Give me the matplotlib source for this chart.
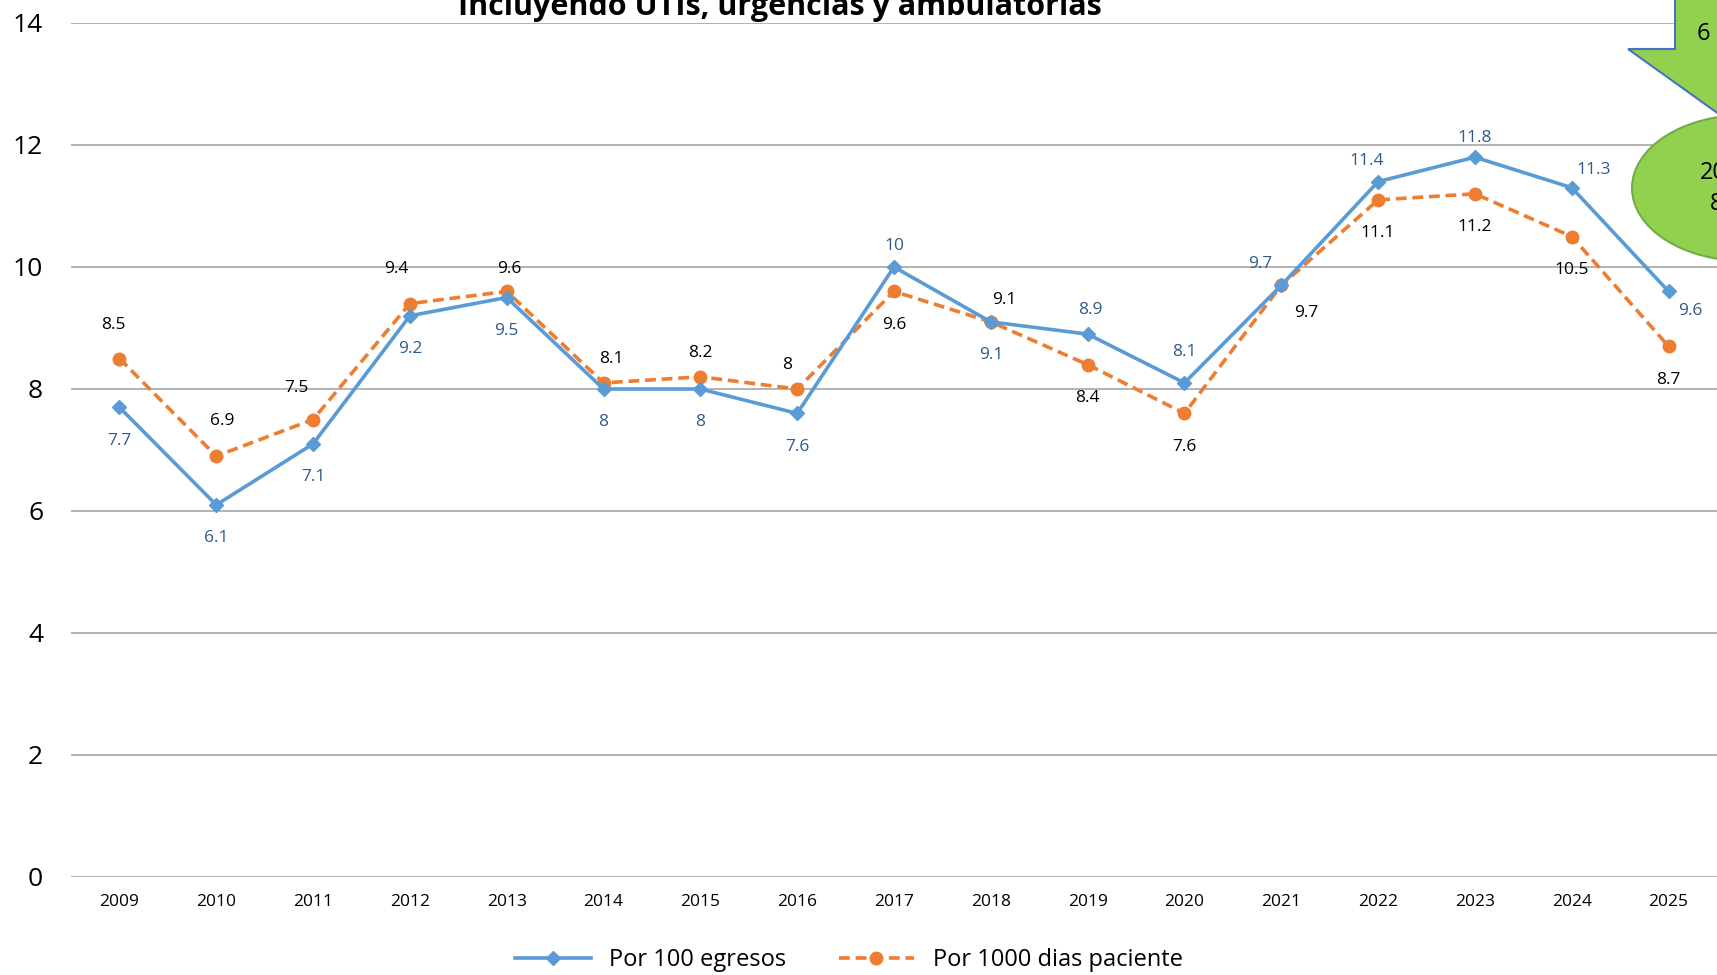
import numpy as np
import matplotlib.pyplot as plt
from matplotlib.patches import Polygon, Ellipse

# data
years = [2009, 2010, 2011, 2012, 2013, 2014, 2015, 2016, 2017,
         2018, 2019, 2020, 2021, 2022, 2023, 2024, 2025]
egresos = [7.7, 6.1, 7.1, 9.2, 9.5, 8, 8, 7.6, 10, 9.1, 8.9, 8.1, 9.7, 11.4, 11.8, 11.3, 9.6]
dias = [8.5, 6.9, 7.5, 9.4, 9.6, 8.1, 8.2, 8, 9.6, 9.1, 8.4, 7.6, 9.7, 11.1, 11.2, 10.5, 8.7]
y_ticks = [0, 2, 4, 6, 8, 10, 12, 14]

# label offsets in points (dx, dy)
off_egr = [(0, -24), (0, -24), (0, -24), (0, -24), (0, -24), (0, -24), (0, -24), (0, -24),
           (0, 15), (0, -24), (2, 17), (0, 22), (-15, 15), (-8, 15), (0, 14), (16, 13), (16, -14)]
off_dias = [(-4, 24), (4, 25), (-12, 23), (-10, 25), (2, 16), (6, 17), (0, 17), (-7, 17),
            (0, -24), (10, 16), (0, -24), (0, -24), (18, -20), (0, -24), (0, -24), (0, -24), (0, -24)]

blue = '#5B9BD5'
orange = '#ED7D31'
lab_blue = '#2F5B8A'

plt.rcParams['font.family'] = ['Open Sans', 'DejaVu Sans']

fig = plt.figure(figsize=(17.17, 9.75), dpi=100)
ax = fig.add_axes([71 / 1717, 1 - 877 / 975, 1 - 71 / 1717, (877 - 23) / 975])

l1, = ax.plot(years, egresos, color=blue, lw=2.6, marker='D', ms=7, label='Por 100 egresos', zorder=4)
l2, = ax.plot(years, dias, color=orange, lw=2.6, ls=(0, (3, 1.6)), marker='o', ms=9,
              label='Por 1000 dias paciente', zorder=3)

for x, y, (dx, dy) in zip(years, egresos, off_egr):
    ax.annotate(f'{y:g}', (x, y), xytext=(dx, dy), textcoords='offset points',
                ha='center', va='center', fontsize=12.5, color=lab_blue)
for x, y, (dx, dy) in zip(years, dias, off_dias):
    ax.annotate(f'{y:g}', (x, y), xytext=(dx, dy), textcoords='offset points',
                ha='center', va='center', fontsize=12.5, color='black')

ax.set_xlim(2008.5, 2025.5)
ax.set_ylim(0, 14)
ax.set_yticks(y_ticks)
ax.set_xticks(years)
ax.set_xticklabels([str(y) for y in years], fontsize=12.5)
ax.tick_params(axis='y', labelsize=19, length=0, pad=20)
ax.tick_params(axis='x', length=0, pad=12)
ax.grid(axis='y', color='#A6A6A6', lw=1.2)
ax.set_axisbelow(True)
for s in ax.spines.values():
    s.set_visible(False)

fig.legend(handles=[l1, l2], loc='center', bbox_to_anchor=(849 / 1717, 1 - 960 / 975),
           ncol=2, frameon=False, fontsize=17, handlelength=3.2, columnspacing=2.2)

fig.text(780 / 1717, 1 - 15 / 975, 'Incluyendo UTIs, urgencias y ambulatorias',
         ha='center', va='baseline', fontsize=22, fontweight='bold')

# callouts cut at the right edge
def px(x, y):
    return (x / 1717, 1 - y / 975)

arrow = Polygon([px(1675, -20), px(1675, 49), px(1628, 49), px(1730, 122), px(1760, -20)],
                closed=True, transform=fig.transFigure, facecolor='#92D050',
                edgecolor='#4472C4', lw=1.5, zorder=5)
fig.patches.append(arrow)
ell = Ellipse(px(1745, 188), 226 / 1717, 146 / 975, transform=fig.transFigure,
              facecolor='#92D050', edgecolor='#70AD47', lw=1.5, zorder=5)
fig.patches.append(ell)
fig.text(1697 / 1717, 1 - 34 / 975, '6', fontsize=17, va='center', ha='left', zorder=6)
fig.text(1700 / 1717, 1 - 173 / 975, '20', fontsize=17, va='center', ha='left', zorder=6)
fig.text(1710 / 1717, 1 - 204 / 975, '8', fontsize=17, va='center', ha='left', zorder=6)

fig.savefig('out.png', dpi=100)
